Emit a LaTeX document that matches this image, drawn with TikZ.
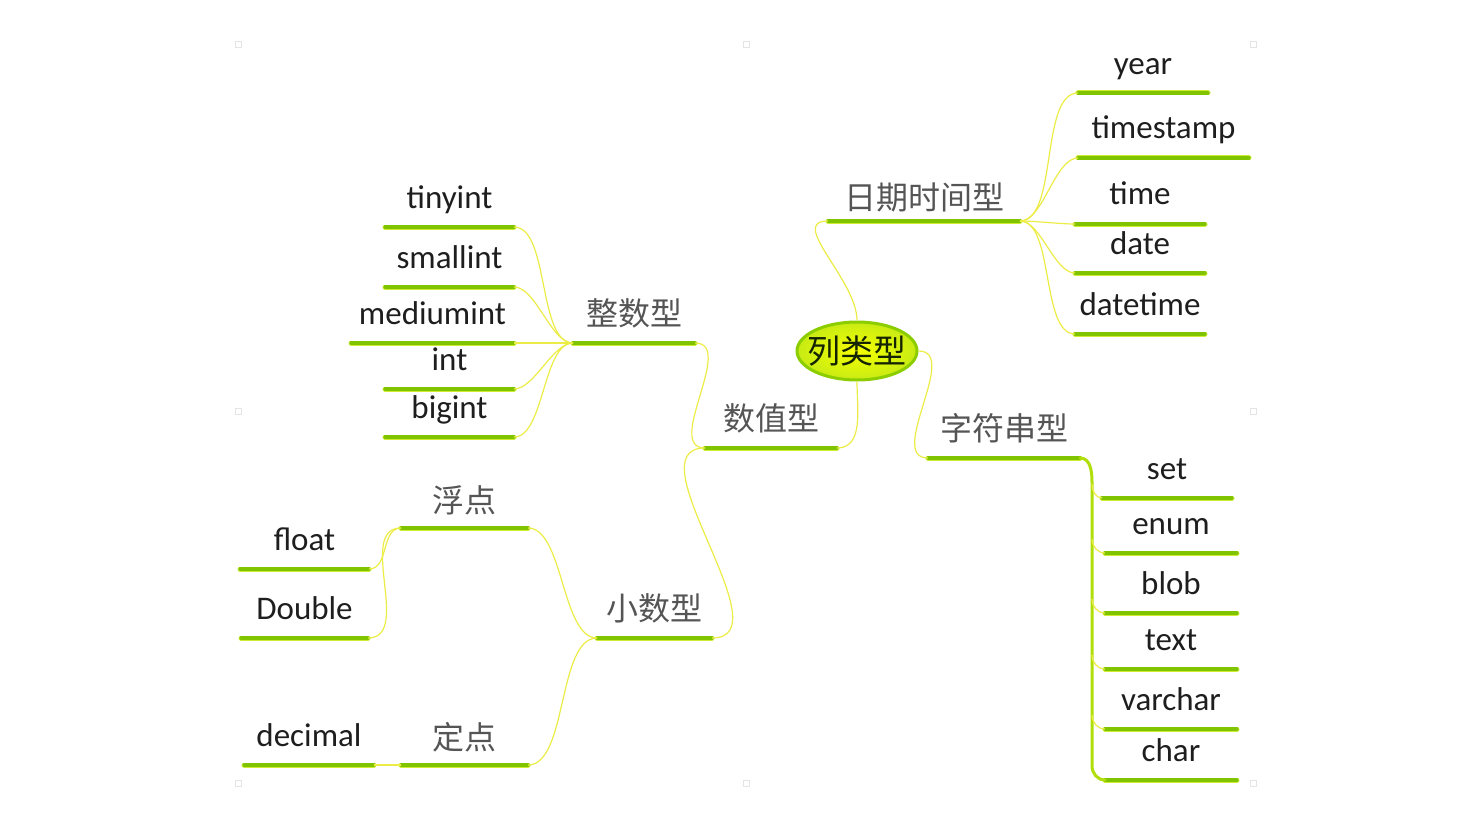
\documentclass[tikz,border=0pt]{standalone}
\usepackage{fontspec}
\setmainfont{Carlito}
\newfontfamily\cjk{Noto Sans CJK SC}
\usetikzlibrary{shapes.geometric,calc}
\definecolor{ulgreen}{RGB}{128,196,0}
\definecolor{ulyellow}{RGB}{205,236,50}
\definecolor{connyellow}{RGB}{236,236,70}
\definecolor{txt}{RGB}{30,30,30}
\definecolor{cjkgray}{RGB}{85,85,85}
\definecolor{rootin}{RGB}{245,255,0}
\definecolor{rootout}{RGB}{200,235,20}
\definecolor{trunkcol}{RGB}{175,222,10}
\definecolor{rootline}{RGB}{140,205,0}
\definecolor{handlegray}{RGB}{228,228,228}
\newcommand\leafnode[7]{%
  \coordinate (#1L) at (#2,#4);
  \coordinate (#1R) at (#3,#4);
  \draw[ulineglow] (#1L) -- (#1R);
  \draw[uline] (#1L) -- (#1R);
  \node[#5] (#1) at ({(#2+#3)/2},{#4-#6}) {#7};
}
\begin{document}
\begin{tikzpicture}[x=0.5pt,y=-0.5pt,
  uline/.style={line width=1.6pt, ulgreen, line cap=round},
  ulineglow/.style={line width=2.5pt, ulyellow, line cap=round},
  conn/.style={line width=0.6pt, connyellow},
  fan/.style={conn, looseness=0.7},
  trunkline/.style={line width=1.5pt, trunkcol, line cap=round},
  enlabel/.style={font=\fontsize{16.5}{18}\selectfont, text=txt, inner sep=0pt, anchor=base},
  cnlabel/.style={font=\cjk\fontsize{16}{18}\selectfont, text=cjkgray, inner sep=0pt, anchor=base},
  rootnode/.style={ellipse, draw=rootline, line width=1.5pt, inner color=rootin, outer color=rootout,
    minimum width=60pt, minimum height=29pt, inner sep=0pt, font=\cjk\fontsize{16.5}{18}\selectfont, text={rgb,255:red,20;green,35;blue,0}},
  handle/.style={draw=handlegray, line width=0.4pt, minimum size=3pt, inner sep=0pt}
]
\useasboundingbox (0,0) rectangle (1457,840);

% faint selection handles
\node[handle] (h1) at (238,44) {};
\node[handle] (h2) at (746,44) {};
\node[handle] (h3) at (1253,44) {};
\node[handle] (h4) at (238,411) {};
\node[handle] (h5) at (1253,411) {};
\node[handle] (h6) at (238,783) {};
\node[handle] (h7) at (746,783) {};
\node[handle] (h8) at (1253,783) {};

% root
\node[rootnode] (root) at (857,351) {\makebox[0pt]{列类型}};

% numeric branch
\leafnode{n-tiny}{385}{514}{227}{enlabel}{19}{tinyint}
\leafnode{n-small}{385}{514}{287}{enlabel}{19}{smallint}
\leafnode{n-medium}{351}{514}{343}{enlabel}{19}{mediumint}
\leafnode{n-int}{385}{514}{389}{enlabel}{19}{int}
\leafnode{n-big}{385}{514}{437}{enlabel}{19}{bigint}
\leafnode{n-zheng}{573}{695}{343}{cnlabel}{18}{整数型}
\leafnode{n-shuzhi}{705}{837}{448}{cnlabel}{18}{数值型}
\leafnode{n-xiaoshu}{597}{712}{638}{cnlabel}{18}{小数型}
\leafnode{n-fudian}{401}{528}{528}{cnlabel}{16}{浮点}
\leafnode{n-dingdian}{401}{528}{765}{cnlabel}{16}{定点}
\leafnode{n-float}{240}{369}{569}{enlabel}{19}{float}
\leafnode{n-double}{241}{368}{638}{enlabel}{19}{Double}
\leafnode{n-decimal}{244}{374}{765}{enlabel}{19}{decimal}

% date branch
\leafnode{n-riqi}{828}{1020}{221}{cnlabel}{12}{日期时间型}
\leafnode{n-year}{1078}{1208}{93}{enlabel}{18}{year}
\leafnode{n-timestamp}{1078}{1249}{158}{enlabel}{19}{timestamp}
\leafnode{n-time}{1075}{1205}{224}{enlabel}{19}{time}
\leafnode{n-date}{1075}{1205}{273}{enlabel}{19}{date}
\leafnode{n-datetime}{1075}{1205}{334}{enlabel}{19}{datetime}

% string branch
\leafnode{n-zifu}{928}{1080}{458}{cnlabel}{18}{字符串型}
\leafnode{n-set}{1102}{1232}{498}{enlabel}{19}{set}
\leafnode{n-enum}{1105}{1237}{553}{enlabel}{19}{enum}
\leafnode{n-blob}{1105}{1237}{613}{enlabel}{19}{blob}
\leafnode{n-text}{1105}{1237}{669}{enlabel}{19}{text}
\leafnode{n-varchar}{1105}{1237}{729}{enlabel}{19}{varchar}
\leafnode{n-char}{1105}{1237}{780}{enlabel}{19}{char}
\coordinate (trunk) at (1092,482);

% connectors: numeric
\foreach \c in {n-tiny,n-small,n-medium,n-int,n-big}
  \draw[fan] (\c R) to[out=0,in=180] (n-zhengL);
\draw[conn] (n-zhengR) to[out=0,in=180] (n-shuzhiL);
\draw[conn] (n-xiaoshuR) to[out=0,in=180] (n-shuzhiL);
\draw[conn] (n-shuzhiR) to[out=0,in=270] (root.south);
\draw[fan] (n-fudianR) to[out=0,in=180] (n-xiaoshuL);
\draw[fan] (n-dingdianR) to[out=0,in=180] (n-xiaoshuL);
\draw[conn] (n-floatR) to[out=0,in=180] (n-fudianL);
\draw[conn] (n-doubleR) to[out=0,in=180] (n-fudianL);
\draw[conn] (n-decimalR) -- (n-dingdianL);

% connectors: date
\draw[conn] (n-riqiL) to[out=180,in=90] (root.north);
\foreach \c in {n-year,n-timestamp,n-time,n-date,n-datetime}
  \draw[fan] (n-riqiR) to[out=0,in=180] (\c L);

% connectors: string
\draw[conn] (root.east) to[out=0,in=180] (n-zifuL);
\draw[trunkline] (n-zifuR) to[out=0,in=90] (trunk) -- ($(n-charL -| trunk)+(0,-14)$) to[out=270,in=180] (n-charL);
\foreach \c in {n-set,n-enum,n-blob,n-text,n-varchar}
  \draw[conn] ($(\c L -| trunk)+(0,-14)$) to[out=270,in=180] (\c L);
\end{tikzpicture}
\end{document}
